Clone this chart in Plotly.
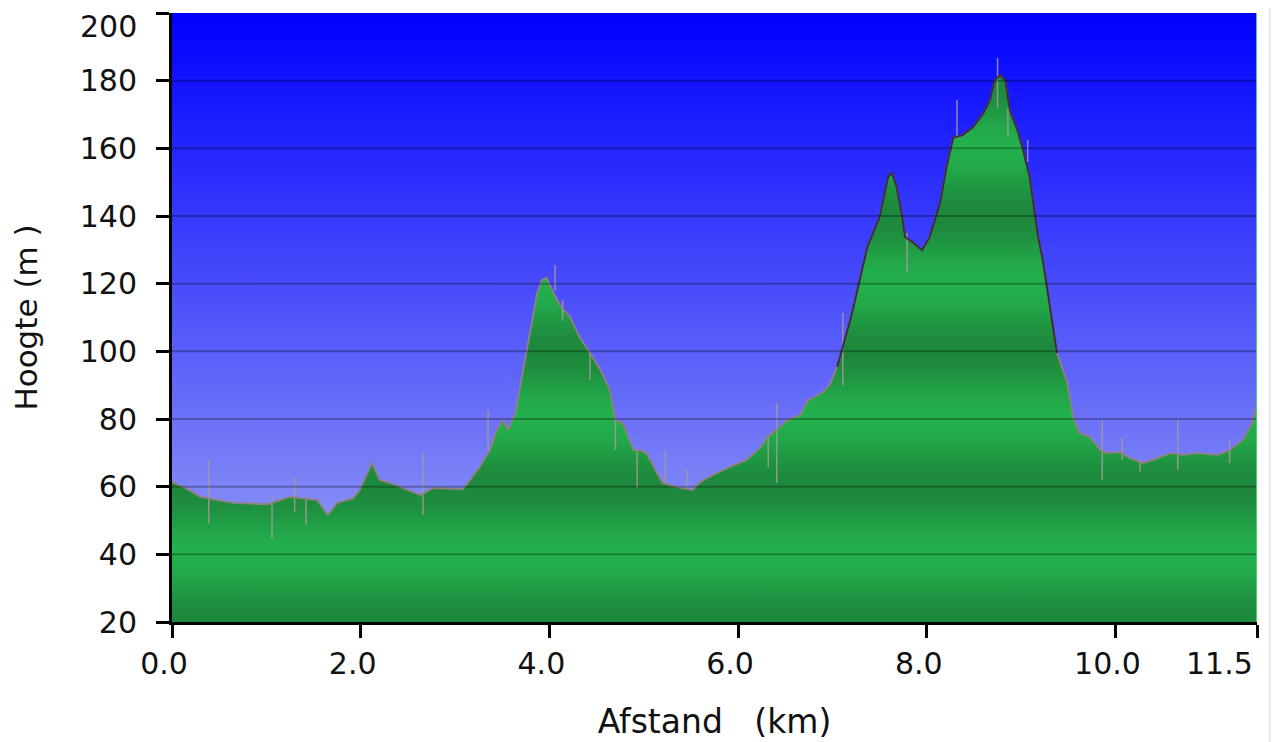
import numpy as np
import plotly.graph_objects as go

# ---- data ----
distance_km = [0.00, 0.14, 0.30, 0.65, 1.01, 1.25, 1.54, 1.65, 1.75, 1.92, 1.99, 2.12, 2.20, 2.31,
               2.42, 2.63, 2.77, 3.08, 3.16, 3.26, 3.37, 3.44, 3.51, 3.56, 3.64, 3.76, 3.87, 3.92,
               3.97, 4.03, 4.11, 4.22, 4.32, 4.43, 4.54, 4.64, 4.70, 4.78, 4.89, 4.96, 5.03, 5.14,
               5.20, 5.35, 5.52, 5.60, 5.73, 5.91, 6.09, 6.23, 6.31, 6.44, 6.52, 6.66, 6.74, 6.79,
               6.90, 6.97, 7.05, 7.11, 7.19, 7.24, 7.37, 7.50, 7.59, 7.63, 7.68, 7.74, 7.77, 7.85,
               7.95, 8.03, 8.14, 8.21, 8.28, 8.38, 8.49, 8.60, 8.67, 8.72, 8.78, 8.83, 8.88, 8.96,
               9.02, 9.09, 9.13, 9.18, 9.23, 9.31, 9.38, 9.49, 9.55, 9.62, 9.73, 9.84, 9.91, 10.05,
               10.15, 10.29, 10.40, 10.58, 10.72, 10.86, 11.08, 11.21, 11.35, 11.45, 11.48, 11.50]
elevation_m = [61.4, 59.6, 57.0, 55.2, 54.8, 57.0, 56.0, 51.6, 55.2, 56.6, 59.0, 67.0, 62.0, 61.1,
               59.9, 57.5, 59.6, 59.2, 62.0, 65.8, 70.8, 76.7, 79.7, 76.7, 81.8, 100.4, 117.2, 121.1,
               121.7, 118.1, 113.7, 110.1, 104.2, 99.5, 94.5, 88.6, 79.7, 78.8, 70.8, 70.8, 69.9, 64.0,
               61.1, 59.9, 59.0, 61.4, 63.4, 65.8, 67.9, 71.4, 74.7, 77.6, 79.7, 81.2, 85.6, 86.2,
               88.0, 90.0, 95.4, 101.3, 109.3, 115.2, 130.8, 139.7, 151.5, 152.7, 148.6, 139.7, 133.8, 132.3,
               129.9, 133.8, 143.8, 154.5, 163.1, 163.9, 166.3, 170.4, 174.3, 180.2, 181.7, 180.2, 171.3, 165.4,
               159.5, 151.5, 143.8, 133.8, 127.0, 112.2, 99.5, 90.6, 80.6, 75.8, 74.7, 70.8, 69.9, 70.2,
               68.5, 67.0, 67.9, 69.9, 69.4, 69.9, 69.4, 70.8, 73.8, 78.8, 82.6, 84.0]

# GPS noise spikes: position, top and bottom of each spike
spike_km = [0.39, 1.06, 1.30, 1.42, 2.66, 3.35, 4.06, 4.14, 4.43, 4.70, 4.93, 5.23, 5.46, 6.32,
            6.41, 7.11, 7.79, 8.32, 8.75, 8.86, 9.07, 9.86, 10.07, 10.26, 10.66, 11.21]
spike_top = [68.0, 57.0, 62.8, 57.0, 69.9, 82.6, 125.5, 115.0, 99.5, 80.0, 71.0, 70.8, 65.0, 74.7,
             84.7, 111.3, 135.0, 174.3, 186.7, 172.0, 162.5, 79.7, 74.4, 68.0, 79.7, 73.8]
spike_bottom = [49.2, 44.5, 52.5, 48.7, 51.6, 70.8, 118.0, 109.0, 91.5, 70.8, 59.6, 61.0, 59.6, 65.8,
                61.1, 90.0, 123.1, 163.0, 172.0, 163.3, 156.0, 62.0, 68.0, 64.5, 64.9, 67.0]

y_ticks = [20, 40, 60, 80, 100, 120, 140, 160, 180, 200]
y_ticktext = ["20", "40", "60", "80", "100", "120", "140", "160", "180", "200"]
x_ticks = [0.0, 2.0, 4.0, 6.0, 8.0, 10.0, 11.5]
x_ticktext = ["0.0", "2.0", "4.0", "6.0", "8.0", "10.0", "11.5"]

x_title = "Afstand\u00a0\u00a0\u00a0(km)" + "\u2007" * 2
y_title = "Hoogte (m\u00a0)"

# ---- styling ----
FONT = "DejaVu Sans"
sky_bottom = "rgb(160,170,244)"
sky_top = "rgb(0,0,255)"

ymin, ymax = y_ticks[0], y_ticks[-1]
xmin, xmax = x_ticks[0], x_ticks[-1]

# banded green gradient (dark at 20, 60, 100..., light at 40, 80, 120...)
green_scale = []
n = 90
for i in range(n + 1):
    f = i / n
    val = ymin + f * (ymax - ymin)
    phase = (val - ymin) / 40.0
    w = 0.5 - 0.5 * np.cos(2 * np.pi * phase)   # 0 dark, 1 light
    r = 29 + (35 - 29) * w
    g = 136 + (176 - 136) * w
    b = 60 + (76 - 60) * w
    green_scale.append([f, f"rgb({r:.0f},{g:.0f},{b:.0f})"])

fig = go.Figure()

# sky background
fig.add_trace(go.Scatter(
    x=[xmin, xmax], y=[ymax, ymax], mode="lines", line=dict(width=0),
    fill="tozeroy",
    fillgradient=dict(type="vertical", colorscale=[[0, sky_bottom], [1, sky_top]],
                      start=ymin, stop=ymax),
    hoverinfo="skip"))

# terrain fill
fig.add_trace(go.Scatter(
    x=distance_km, y=elevation_m, mode="lines", line=dict(width=0),
    fill="tozeroy",
    fillgradient=dict(type="vertical", colorscale=green_scale, start=ymin, stop=ymax),
    hoverinfo="skip"))

# spikes
sx, sy = [], []
for k, t, b in zip(spike_km, spike_top, spike_bottom):
    sx += [k, k, None]
    sy += [b, t, None]
fig.add_trace(go.Scatter(x=sx, y=sy, mode="lines",
                         line=dict(color="rgba(165,155,150,0.85)", width=1.5),
                         hoverinfo="skip"))

# profile outline
d = np.array(distance_km)
e = np.array(elevation_m)
fig.add_trace(go.Scatter(x=d, y=e, mode="lines",
                         line=dict(color="rgb(145,130,125)", width=1.8), hoverinfo="skip"))
mask = (d > 7.0) & (d < 9.45)
fig.add_trace(go.Scatter(x=d[mask], y=e[mask], mode="lines",
                         line=dict(color="rgb(60,45,60)", width=2), hoverinfo="skip"))

# grid lines above fills
shapes = []
for v in y_ticks[1:-1]:
    shapes.append(dict(type="line", xref="x domain", yref="y", x0=0, x1=1, y0=v, y1=v,
                       line=dict(color="rgba(0,0,0,0.28)", width=2), layer="above"))
# light green right edge
shapes.append(dict(type="line", xref="x", yref="y", x0=xmax, x1=xmax, y0=ymin, y1=ymax,
                   line=dict(color="rgb(80,205,110)", width=2), layer="above"))
# light grey strip at the right page edge (as in the original screenshot)
shapes.append(dict(type="rect", xref="paper", yref="paper", x0=1.0105, x1=1.06, y0=-0.3, y1=1.1,
                   fillcolor="#ededed", line=dict(width=0), layer="above"))

tick_font = dict(family=FONT, size=30, color="#111")

# edge tick labels drawn as annotations so they stay inside the page
annotations = [
    dict(text=y_ticktext[-1], xref="paper", x=0, yref="y", y=ymax, xanchor="right",
         yanchor="top", xshift=-34, yshift=5, showarrow=False, font=tick_font, borderpad=0),
    dict(text=x_ticktext[-1], xref="x", x=xmax, yref="paper", y=0, xanchor="right",
         yanchor="top", xshift=-2, yshift=-22, showarrow=False, font=tick_font),
]
y_ticktext_axis = y_ticktext[:-1] + [""]
x_ticktext_axis = x_ticktext[:-1] + [""]

fig.update_layout(
    width=1271, height=734,
    margin=dict(l=164, r=22, t=5, b=120),
    paper_bgcolor="white", plot_bgcolor="white",
    showlegend=False,
    shapes=shapes,
    annotations=annotations,
    xaxis=dict(range=[xmin, xmax], tickvals=x_ticks, ticktext=x_ticktext_axis,
               ticks="outside", ticklen=13, tickwidth=3, tickcolor="black",
               showline=True, linewidth=3, linecolor="black",
               showgrid=False, zeroline=False, automargin=False,
               ticklabeloverflow="allow", ticklabelshift=-8,
               tickfont=tick_font,
               title=dict(text=x_title, font=dict(family=FONT, size=33, color="#111"), standoff=30)),
    yaxis=dict(range=[ymin, ymax], tickvals=y_ticks, ticktext=y_ticktext_axis,
               ticks="outside", ticklen=13, tickwidth=3, tickcolor="black",
               showline=True, linewidth=3, linecolor="black",
               showgrid=False, zeroline=False, automargin=False,
               ticklabeloverflow="allow", ticklabelstandoff=13,
               tickfont=tick_font,
               title=dict(text=y_title, font=dict(family=FONT, size=31, color="#111"), standoff=36)),
)

fig.write_html("out.html")
